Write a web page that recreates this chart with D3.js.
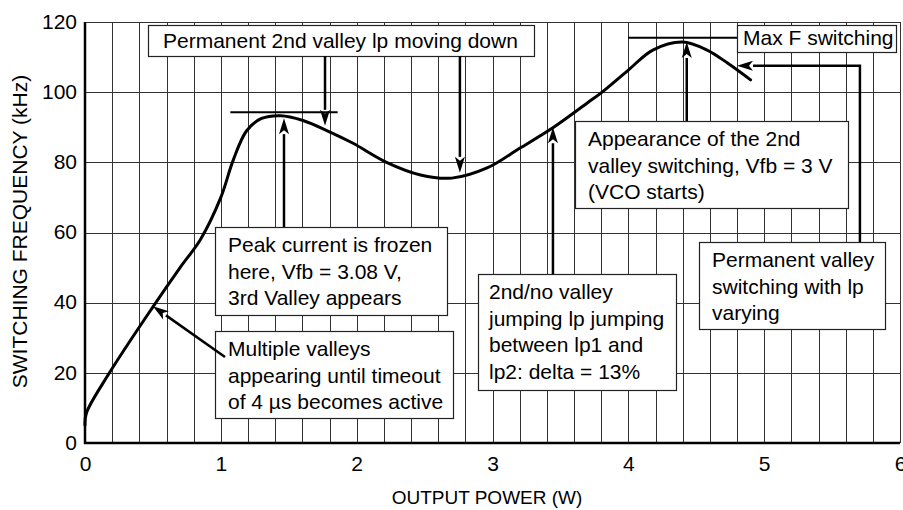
<!DOCTYPE html>
<html>
<head>
<meta charset="utf-8">
<script src="https://cdn.jsdelivr.net/npm/d3@7"></script>
<style>
  body { margin: 0; background: #fff; }
  svg text { font-family: "Liberation Sans", Arial, Helvetica, sans-serif; fill: #000; }
</style>
</head>
<body>
<script>
// curve
var powerW  = [0, 0.01, 0.18, 0.5, 0.7, 0.85, 1.0, 1.09, 1.19, 1.3, 1.44, 1.6, 1.8, 1.97, 2.22, 2.47, 2.7, 2.96, 3.2, 3.45, 3.7, 3.8, 4.0, 4.18, 4.4, 4.58, 4.73, 4.9];
var freqKHz = [5, 8.5, 20, 38.8, 50, 58, 70, 80.5, 89, 92.5, 93.3, 92, 88.7, 85.5, 80, 76.4, 75.5, 78.4, 84, 90, 97, 99.8, 106.3, 112, 114.3, 112, 108.3, 103.5];
var xTicks = [0, 1, 2, 3, 4, 5, 6];
var yTicks = [0, 20, 40, 60, 80, 100, 120];
var xTitle = "OUTPUT POWER (W)";
var yTitle = "SWITCHING FREQUENCY (kHz)";

// annotation texts
var noteTexts = [
  ["Permanent 2nd valley lp moving down"],
  ["Max F switching"],
  ["Peak current is frozen", "here, Vfb = 3.08 V,", "3rd Valley appears"],
  ["Multiple valleys", "appearing until timeout", "of 4 \u00b5s becomes active"],
  ["2nd/no valley", "jumping lp jumping", "between lp1 and", "lp2: delta = 13%"],
  ["Appearance of the 2nd", "valley switching, Vfb = 3 V", "(VCO starts)"],
  ["Permanent valley", "switching with lp", "varying"]
];

(function(){
  var W = 903, H = 510,
      m = {l: 85, r: 3, t: 22, b: 67};

  var svg = d3.select("body").append("svg").attr("width", W).attr("height", H);

  var x = d3.scaleLinear().domain([0, 6]).range([m.l, W - m.r]),
      y = d3.scaleLinear().domain([0, 120]).range([H - m.b, m.t]);

  var grid = svg.append("g").attr("stroke", "#333").attr("stroke-width", 1);
  grid.selectAll(".vx").data(d3.range(1, 31).map(function(i){ return i * 0.2; }))
    .enter().append("line")
    .attr("x1", function(d){ return Math.round(x(d)) + 0.5; })
    .attr("x2", function(d){ return Math.round(x(d)) + 0.5; })
    .attr("y1", y(0)).attr("y2", y(120));
  grid.selectAll(".hy").data(yTicks.slice(1))
    .enter().append("line")
    .attr("y1", function(d){ return Math.round(y(d)) + 0.5; })
    .attr("y2", function(d){ return Math.round(y(d)) + 0.5; })
    .attr("x1", x(0)).attr("x2", x(6));

  // main axis lines
  svg.append("line").attr("x1", x(0)).attr("x2", x(0)).attr("y1", y(0) + 1).attr("y2", y(120))
    .attr("stroke", "#000").attr("stroke-width", 2.5);
  svg.append("line").attr("x1", x(0) - 1).attr("x2", x(6)).attr("y1", y(0)).attr("y2", y(0))
    .attr("stroke", "#000").attr("stroke-width", 2.5);

  var ax = svg.append("g").attr("transform", "translate(0," + y(0) + ")")
    .call(d3.axisBottom(x).tickValues(xTicks).tickSize(0).tickPadding(13).tickFormat(d3.format("d")));
  var ay = svg.append("g").attr("transform", "translate(" + x(0) + ",0)")
    .call(d3.axisLeft(y).tickValues(yTicks).tickSize(0).tickPadding(8));
  [ax, ay].forEach(function(a){
    a.select(".domain").remove();
    a.selectAll("text").attr("font-size", 21).attr("font-family", null);
  });
  ay.selectAll("text").attr("dy", "0.3em");

  svg.append("text").attr("x", 487).attr("y", 504)
    .attr("text-anchor", "middle").attr("font-size", 19).text(xTitle);
  svg.append("text").attr("transform", "translate(27," + (y(60) - 1) + ") rotate(-90)")
    .attr("text-anchor", "middle").attr("font-size", 21).text(yTitle);

  // curve
  var pts = powerW.map(function(d, i){ return [d, freqKHz[i]]; });
  svg.append("path").datum(pts)
    .attr("fill", "none").attr("stroke", "#000").attr("stroke-width", 3)
    .attr("stroke-linecap", "round").attr("stroke-linejoin", "round")
    .attr("d", d3.line().x(function(d){ return x(d[0]); }).y(function(d){ return y(d[1]); })
      .curve(d3.curveCatmullRom.alpha(0.5)));

  // tangent marks at the two maxima
  var tangents = [[1.07, 1.86, 94.3], [4.0, 4.8, 115.5]];
  svg.selectAll(".tan").data(tangents).enter().append("line")
    .attr("x1", function(d){ return x(d[0]); }).attr("x2", function(d){ return x(d[1]); })
    .attr("y1", function(d){ return y(d[2]); }).attr("y2", function(d){ return y(d[2]); })
    .attr("stroke", "#000").attr("stroke-width", 2);

  // boxes: left, top, width, height (px), text offset
  var boxes = [
    {b: [148, 25, 386, 31], tx: 15, ty: 23},
    {b: [737, 25, 159, 27], tx: 6, ty: 20},
    {b: [215, 227, 232, 88], tx: 13, ty: 25},
    {b: [215, 331, 238, 87], tx: 13, ty: 25},
    {b: [478, 274, 198, 116], tx: 11, ty: 25},
    {b: [575, 121, 273, 87], tx: 13, ty: 25},
    {b: [699, 242, 186, 87], tx: 13, ty: 25}
  ];

  // arrows: polyline from tail to tip, in data units
  var arrows = [
    [[1.465, y.invert(227)], [1.465, 92.6]],
    [[1.767, y.invert(56)], [1.767, 90.4]],
    [[2.76, y.invert(56)], [2.76, 77]],
    [[x.invert(225), y.invert(357)], [0.5, 39]],
    [[3.445, y.invert(274)], [3.445, 90]],
    [[4.43, y.invert(121)], [4.43, 114.3]],
    [[5.705, y.invert(242)], [5.705, 107.5], [4.8, 107.5]]
  ];

  var nb = svg.selectAll(".note").data(boxes).enter().append("g");
  nb.append("rect")
    .attr("x", function(d){ return d.b[0] + 0.5; }).attr("y", function(d){ return d.b[1] + 0.5; })
    .attr("width", function(d){ return d.b[2]; }).attr("height", function(d){ return d.b[3]; })
    .attr("fill", "#fff").attr("stroke", "#222").attr("stroke-width", 1.2);
  nb.each(function(d, i){
    var t = d3.select(this).append("text").attr("font-size", 21);
    noteTexts[i].forEach(function(s, k){
      t.append("tspan").attr("x", d.b[0] + d.tx).attr("y", d.b[1] + d.ty + k * 26.5).text(s);
    });
  });

  var ar = svg.append("g");
  arrows.forEach(function(a){
    var p = a.map(function(d){ return [x(d[0]), y(d[1])]; }),
        tip = p[p.length - 1], pre = p[p.length - 2],
        ang = Math.atan2(tip[1] - pre[1], tip[0] - pre[0]),
        L = 16, hw = 5,
        bx = tip[0] - L * Math.cos(ang), by = tip[1] - L * Math.sin(ang);
    var q = p.slice(0, -1).concat([[bx, by]]);
    ar.append("path").attr("d", d3.line()(q))
      .attr("fill", "none").attr("stroke", "#000").attr("stroke-width", 2.5);
    ar.append("path")
      .attr("d", "M" + tip + "L" + [bx + hw * Math.sin(ang), by - hw * Math.cos(ang)] +
        "L" + [bx + 4 * Math.cos(ang), by + 4 * Math.sin(ang)] +
        "L" + [bx - hw * Math.sin(ang), by + hw * Math.cos(ang)] + "Z")
      .attr("fill", "#000");
  });
})();
</script>
</body>
</html>
